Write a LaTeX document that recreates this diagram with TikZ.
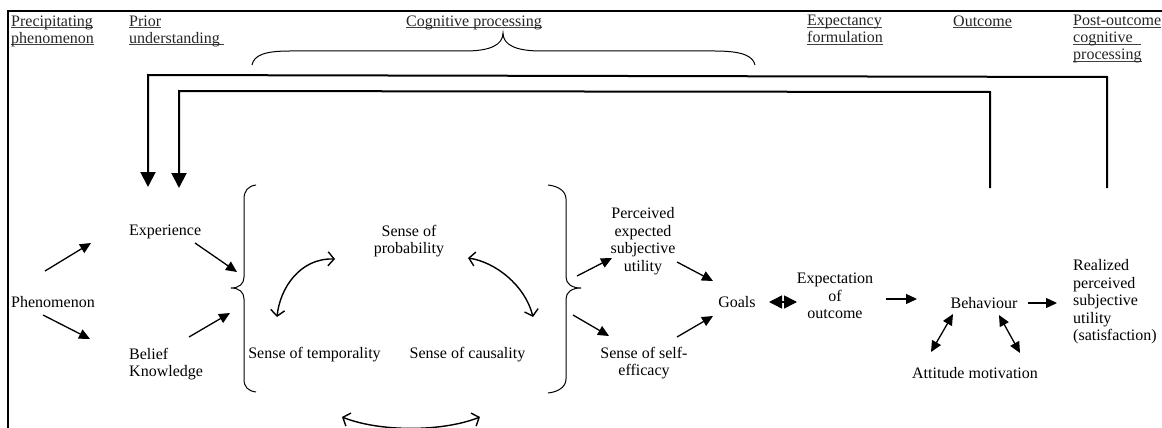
\documentclass[tikz,border=0pt]{standalone}
\usepackage{fontspec}
\setmainfont{Liberation Serif}
\usetikzlibrary{arrows.meta}
\newcommand{\hdrline}[1]{\sbox0{#1}\rlap{\color{black!75}\rule[-2.2pt]{\wd0}{0.9pt}}\usebox0}
\begin{document}
\begin{tikzpicture}[x=1pt,y=-1pt,
  txt/.style={font=\fontsize{16}{17.5}\selectfont, inner sep=0pt, align=center},
  hdr/.style={font=\fontsize{16}{17}\selectfont, inner sep=0pt, align=left, anchor=north west, text=black!85},
  arr/.style={line width=1.3pt, -{Triangle[length=11pt,width=10pt]}},
  darr/.style={line width=1.3pt, {Triangle[length=11pt,width=10pt]}-{Triangle[length=11pt,width=10pt]}},
  gdarr/.style={line width=1.5pt, {Triangle[length=13pt,width=13pt]}-{Triangle[length=13pt,width=13pt]}},
  carr/.style={line width=1.4pt, {Straight Barb[length=6pt,width=14pt]}-{Straight Barb[length=6pt,width=14pt]}},
  fb/.style={line width=2pt, -{Triangle[length=15pt,width=15pt]}},
  bracepath/.style={line width=1pt},
  frame/.style={line width=2pt}
]
\useasboundingbox (0,0) rectangle (1162,428);
\fill[white] (0,0) rectangle (1162,428);

% frame
\coordinate (frBL) at (8,429);
\coordinate (frTL) at (8,11);
\coordinate (frTR) at (1163,11);
\draw[frame] (frBL) -- (frTL) -- (frTR);

% headers
\node[hdr] (h1) at (11,15.3) {\hdrline{Precipitating}\\\hdrline{phenomenon}};
\node[hdr] (h2) at (129,15.3) {\hdrline{Prior}\\\hdrline{understanding\ }};
\node[hdr] (h3) at (406,15.3) {\hdrline{Cognitive processing}};
\node[hdr] (h4) at (807,15.3) {\hdrline{Expectancy}\\\hdrline{formulation}};
\node[hdr] (h5) at (953,15.3) {\hdrline{Outcome}};
\node[hdr] (h6) at (1073,15.3) {\hdrline{Post-outcome}\\\hdrline{cognitive\ \ }\\\hdrline{processing}};

% top brace
\draw[bracepath] (252,65) .. controls (254,55) and (265,51) .. (290,51) -- (465,51)
  .. controls (490,51) and (503,45) .. (503,33)
  .. controls (503,45) and (516,51) .. (541,51) -- (715,51)
  .. controls (745,51) and (753,57) .. (755,65);

% feedback lines
\coordinate (fbAstart) at (1107,188);
\coordinate (fbAc1) at (1107,77);
\coordinate (fbAc2) at (148,75);
\coordinate (fbAend) at (148,187);
\draw[fb] (fbAstart) -- (fbAc1) -- (fbAc2) -- (fbAend);
\coordinate (fbBstart) at (990,188);
\coordinate (fbBc1) at (990,92);
\coordinate (fbBc2) at (179,91);
\coordinate (fbBend) at (179,188);
\draw[fb] (fbBstart) -- (fbBc1) -- (fbBc2) -- (fbBend);

% nodes
\node[txt, anchor=west] (phen) at (11,302) {Phenomenon};
\node[txt, anchor=west] (exper) at (129,232) {Experience};
\node[txt, anchor=west, align=left] (belief) at (129,364) {Belief\\Knowledge};
\node[txt] (prob) at (409,241) {Sense of\\probability};
\node[txt] (temp) at (314.5,355) {Sense of temporality};
\node[txt] (caus) at (467.5,355) {Sense of causality};
\node[txt] (peu) at (643,241) {Perceived\\expected\\subjective\\utility};
\node[txt] (selfeff) at (644,363) {Sense of self-\\efficacy};
\node[txt] (goals) at (737,302) {Goals};
\node[txt] (expect) at (835,296) {Expectation\\of\\outcome};
\node[txt] (behav) at (984,303) {Behaviour};
\node[txt] (attit) at (975,373) {Attitude motivation};
\node[txt, anchor=west, align=left] (realized) at (1073,302) {Realized\\perceived\\subjective\\utility\\(satisfaction)};

% left brace
\draw[bracepath] (256,185) .. controls (248,186) and (244,191) .. (244,199) -- (244,277)
  .. controls (244,284) and (239,288) .. (231,288)
  .. controls (239,288) and (244,292) .. (244,299) -- (244,379)
  .. controls (244,387) and (248,391) .. (256,392);
% right brace
\draw[bracepath] (548,185) .. controls (558,186) and (566,191) .. (566,199) -- (566,277)
  .. controls (566,284) and (572,288) .. (581,288)
  .. controls (572,288) and (566,292) .. (566,299) -- (566,379)
  .. controls (566,387) and (558,392) .. (548,393);

% straight arrows
\coordinate (a1s) at (45,271);  \coordinate (a1e) at (91,243);
\coordinate (a2s) at (43,315);  \coordinate (a2e) at (90,339);
\coordinate (a3s) at (195,243); \coordinate (a3e) at (237,272);
\coordinate (a4s) at (189,337); \coordinate (a4e) at (230,313);
\coordinate (a5s) at (577,276); \coordinate (a5e) at (612,258);
\coordinate (a6s) at (573,315); \coordinate (a6e) at (609,336);
\coordinate (a7s) at (677,262); \coordinate (a7e) at (713,281);
\coordinate (a8s) at (677,337); \coordinate (a8e) at (713,316);
\coordinate (a9s) at (886,299); \coordinate (a9e) at (917,299);
\coordinate (a10s) at (1028,303); \coordinate (a10e) at (1057,303);
\draw[arr] (a1s) -- (a1e);
\draw[arr] (a2s) -- (a2e);
\draw[arr] (a3s) -- (a3e);
\draw[arr] (a4s) -- (a4e);
\draw[arr] (a5s) -- (a5e);
\draw[arr] (a6s) -- (a6e);
\draw[arr] (a7s) -- (a7e);
\draw[arr] (a8s) -- (a8e);
\draw[arr] (a9s) -- (a9e);
\draw[arr] (a10s) -- (a10e);

% goals <-> expectation
\coordinate (geL) at (769,302); \coordinate (geR) at (797,302);
\draw[gdarr] (geL) -- (geR);

% behaviour <-> attitude
\coordinate (d1a) at (953,314); \coordinate (d1b) at (931,352);
\coordinate (d2a) at (999,315); \coordinate (d2b) at (1020,353);
\draw[darr] (d1a) -- (d1b);
\draw[darr] (d2a) -- (d2b);

% curved double arrows
\coordinate (c1a) at (335,259); \coordinate (c1b) at (277,317);
\coordinate (c2a) at (468,258); \coordinate (c2b) at (533,317);
\coordinate (c3a) at (342,417); \coordinate (c3b) at (480,417);
\draw[carr] (c1a) .. controls (300,258) and (280,288) .. (c1b);
\draw[carr] (c2a) .. controls (495,262) and (525,285) .. (c2b);
\draw[carr] (c3a) .. controls (380,432) and (442,432) .. (c3b);
\end{tikzpicture}
\end{document}
